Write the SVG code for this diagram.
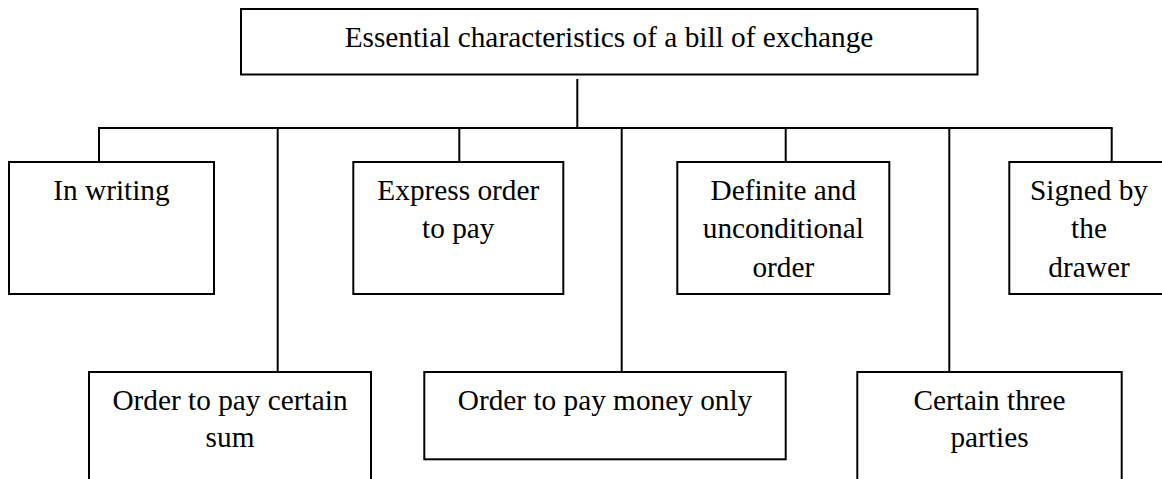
<svg xmlns="http://www.w3.org/2000/svg" width="1162" height="479" viewBox="0 0 1162 479">
  <style>
    .box { fill: #ffffff; stroke: #000000; stroke-width: 2; }
    .conn { fill: none; stroke: #000000; stroke-width: 2; }
    .lbl { font-family: "Liberation Serif", "Times New Roman", serif; font-size: 29.3px; fill: #000000; text-anchor: middle; }
  </style>
  <rect width="1162" height="479" fill="#ffffff"/>
  <g id="connectors">
    <line class="conn" x1="577.3" y1="79" x2="577.3" y2="128"/>
    <line class="conn" x1="98" y1="128" x2="1112.7" y2="128"/>
    <line class="conn" x1="99" y1="128" x2="99" y2="162"/>
    <line class="conn" x1="277.7" y1="128" x2="277.7" y2="372"/>
    <line class="conn" x1="459.3" y1="128" x2="459.3" y2="162"/>
    <line class="conn" x1="621.7" y1="128" x2="621.7" y2="372"/>
    <line class="conn" x1="785.7" y1="128" x2="785.7" y2="162"/>
    <line class="conn" x1="949.3" y1="128" x2="949.3" y2="372"/>
    <line class="conn" x1="1111.7" y1="128" x2="1111.7" y2="162"/>
  </g>
  <g id="node-root">
    <rect class="box" x="241" y="9" width="736.5" height="65.5"/>
    <text class="lbl" x="609" y="47">Essential characteristics of a bill of exchange</text>
  </g>
  <g id="node-in-writing">
    <rect class="box" x="9" y="162" width="205" height="132"/>
    <text class="lbl" x="111.5" y="200">In writing</text>
  </g>
  <g id="node-express-order">
    <rect class="box" x="353.3" y="162" width="210" height="132"/>
    <text class="lbl" x="458.3" y="200">Express order</text>
    <text class="lbl" x="458.3" y="238.3">to pay</text>
  </g>
  <g id="node-definite">
    <rect class="box" x="677.3" y="162" width="212" height="132"/>
    <text class="lbl" x="783.3" y="200">Definite and</text>
    <text class="lbl" x="783.3" y="238.3">unconditional</text>
    <text class="lbl" x="783.3" y="276.7">order</text>
  </g>
  <g id="node-signed">
    <rect class="box" x="1009.3" y="162" width="160" height="132"/>
    <text class="lbl" x="1089" y="200">Signed by</text>
    <text class="lbl" x="1089" y="238.3">the</text>
    <text class="lbl" x="1089" y="276.7">drawer</text>
  </g>
  <g id="node-certain-sum">
    <rect class="box" x="89" y="372" width="282" height="130"/>
    <text class="lbl" x="230" y="410">Order to pay certain</text>
    <text class="lbl" x="230" y="447.3">sum</text>
  </g>
  <g id="node-money-only">
    <rect class="box" x="424.3" y="372" width="361.4" height="87.3"/>
    <text class="lbl" x="605" y="410">Order to pay money only</text>
  </g>
  <g id="node-three-parties">
    <rect class="box" x="857.3" y="372" width="264.4" height="130"/>
    <text class="lbl" x="989.5" y="410">Certain three</text>
    <text class="lbl" x="989.5" y="447.3">parties</text>
  </g>
</svg>
